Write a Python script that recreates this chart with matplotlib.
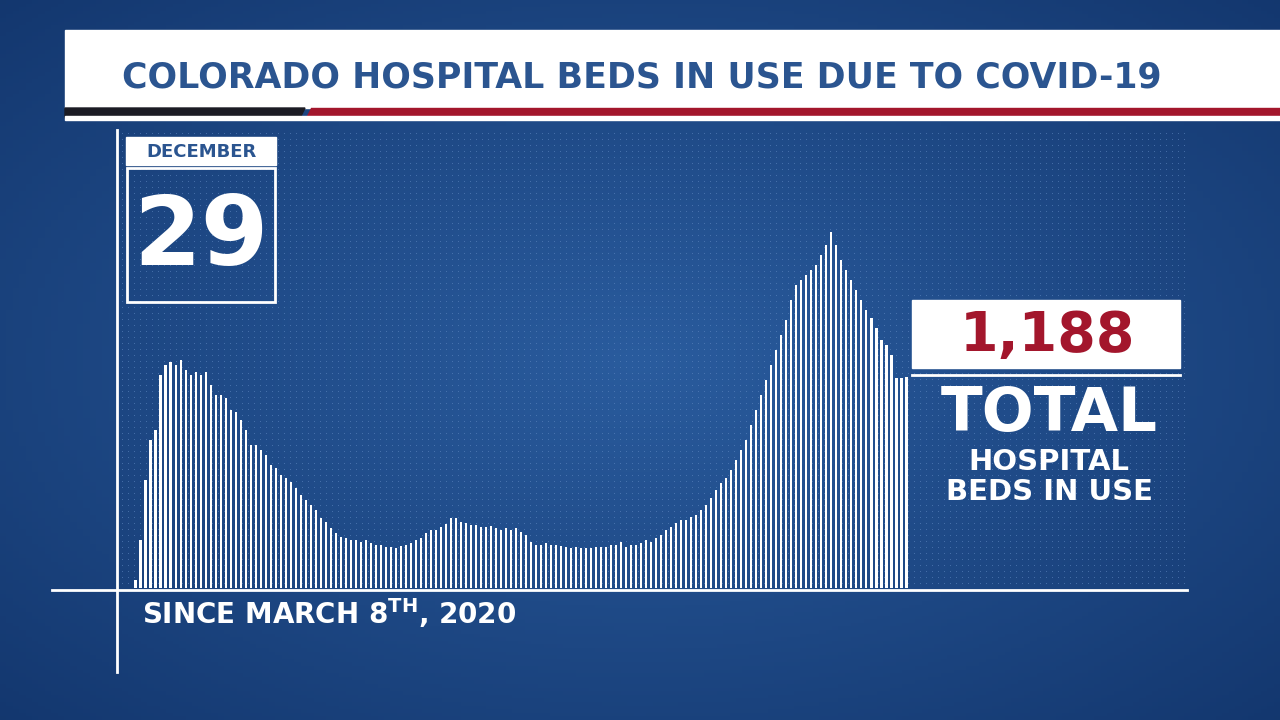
import matplotlib
matplotlib.use("Agg")
import matplotlib.pyplot as plt
import numpy as np
from matplotlib.patches import Rectangle, Polygon
from matplotlib.lines import Line2D

beds = [45,270,608,833,890,1199,1255,1272,1255,1284,1227,1199,1216,1199,1216,1143,1087,1087,1070,1002,
        991,946,890,805,805,777,749,692,676,636,619,597,563,524,495,467,439,394,372,338,
        310,287,282,270,270,259,270,253,242,242,231,231,225,236,242,253,270,282,310,327,
        327,343,360,394,394,372,366,355,355,343,343,349,338,327,338,327,338,315,298,259,
        242,242,253,242,242,236,231,225,231,225,225,225,231,231,231,242,242,259,231,242,
        242,253,270,259,282,298,327,343,366,383,383,400,411,439,467,507,552,591,619,664,
        721,777,833,918,1002,1087,1171,1255,1340,1424,1509,1621,1706,1734,1762,1790,1818,1875,1931,2004,
        1931,1847,1790,1734,1678,1621,1565,1520,1464,1396,1368,1312,1182,1182,1188]
title = "COLORADO HOSPITAL BEDS IN USE DUE TO COVID-19"
month, day = "DECEMBER", "29"
total_label = "1,188"

W, H = 1280, 720
fig = plt.figure(figsize=(12.8, 7.2), dpi=100)
def fx(x): return x / W
def fy(y): return 1 - y / H

bg = fig.add_axes([0, 0, 1, 1], zorder=0)
bg.set_axis_off()
yy, xx = np.mgrid[0:1:200j, 0:1:200j]
r = np.sqrt((xx - 0.5) ** 2 + (yy - 0.5) ** 2)
c1 = np.array([0x2a, 0x5c, 0x9e]) / 255
c0 = np.array([0x12, 0x35, 0x6c]) / 255
img = c1[None, None, :] * (1 - r[..., None] / 0.75) + c0[None, None, :] * (r[..., None] / 0.75)
bg.imshow(np.clip(img, 0, 1), extent=[0, 1, 0, 1], aspect="auto")
bg.set_xlim(0, 1); bg.set_ylim(0, 1)
gx, gy = np.meshgrid(np.arange(122, 1186, 6), np.arange(133, 588, 6))
bg.scatter(fx(gx.ravel()), fy(gy.ravel()), s=0.6, color="#5d86bf", lw=0, alpha=0.7)

ax = fig.add_axes([fx(133), fy(588), fx(909) - fx(133), fy(130) - fy(588)], zorder=2)
ax.patch.set_alpha(0)
n = len(beds)
ax.bar(np.arange(n), beds, width=0.42, color="white", linewidth=0)
ax.set_xlim(-0.5, n - 0.5)
ax.set_ylim(0, (588 - 130) * 5.63)
ax.set_axis_off()

ov = fig.add_axes([0, 0, 1, 1], zorder=3)
ov.set_axis_off(); ov.set_xlim(0, W); ov.set_ylim(H, 0); ov.patch.set_alpha(0)

ov.add_patch(Rectangle((65, 30), W - 65, 78, color="white"))
ov.text(642, 78, title, ha="center", va="center", color="#2b5590", fontsize=25, fontweight="bold", family="DejaVu Sans")
ov.add_patch(Polygon([(65, 108), (305, 108), (300, 118), (65, 118)], color="#1c1c24"))
ov.add_patch(Polygon([(311, 108), (W, 108), (W, 116), (307, 116)], color="#a3162c"))
ov.add_patch(Rectangle((65, 116), W - 65, 4, color="white"))

ov.add_line(Line2D([117, 117], [130, 672], color="white", lw=2))
ov.add_line(Line2D([52, 1187], [590, 590], color="white", lw=2))

ov.add_patch(Rectangle((126, 137), 150, 28, color="white"))
ov.text(201, 152, month, ha="center", va="center", color="#2b5590", fontsize=13, fontweight="bold", family="DejaVu Sans")
ov.add_patch(Rectangle((127, 168), 148, 134, fill=False, ec="white", lw=2))
ov.text(201, 238, day, ha="center", va="center", color="white", fontsize=70, fontweight="bold", family="DejaVu Sans")

ov.add_patch(Rectangle((912, 300), 268, 68, color="white"))
ov.text(1048, 336, total_label, ha="center", va="center", color="#a3162c", fontsize=40, fontweight="bold", family="DejaVu Sans")
ov.add_line(Line2D([912, 1180], [375, 375], color="white", lw=2))
ov.text(1049, 414, "TOTAL", ha="center", va="center", color="white", fontsize=44, fontweight="bold", family="DejaVu Sans")
ov.text(1049, 477, "HOSPITAL\nBEDS IN USE", ha="center", va="center", color="white", fontsize=21, fontweight="bold",
        family="DejaVu Sans", linespacing=1.05)

ov.text(142, 613, r"SINCE MARCH 8$^{\mathbf{TH}}$, 2020", ha="left", va="center", color="white", fontsize=20,
        fontweight="bold", family="DejaVu Sans")

fig.savefig("out.png", dpi=100)
